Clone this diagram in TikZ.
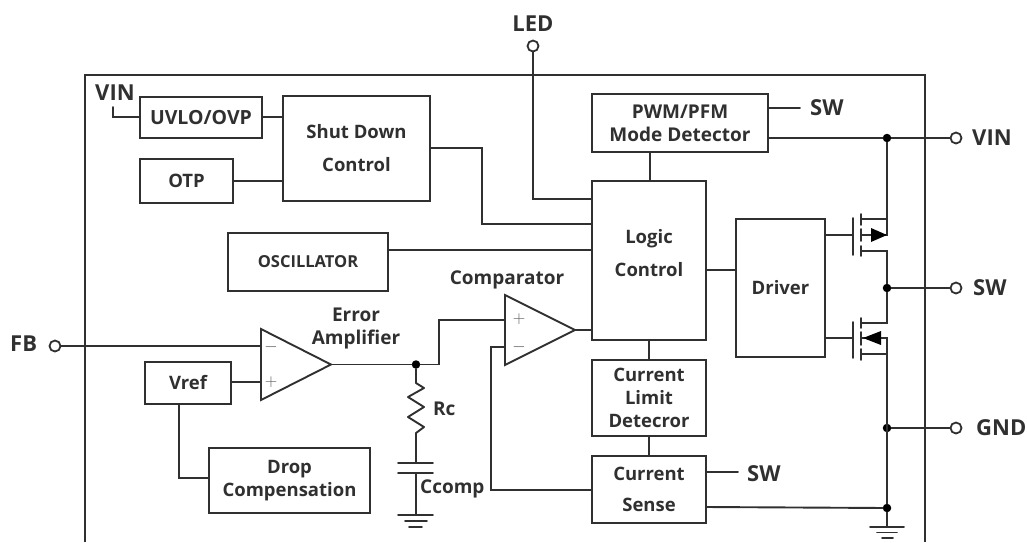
\documentclass[tikz,border=0pt]{standalone}
\usepackage{fontspec}
\setmainfont{Open Sans}[BoldFont={Open Sans Bold}]
\definecolor{ink}{HTML}{303030}
\newcommand{\fs}[1]{\fontsize{#1}{23}\selectfont\bfseries}
\tikzset{
  wire/.style={draw=ink,line width=1.9pt,line cap=round,line join=miter},
  lbl/.style={text=ink,inner sep=0pt,align=center,font=\fs{19}},
  biglbl/.style={text=ink,inner sep=0pt,align=center,font=\fs{22}},
  sign/.style={text=ink!80,inner sep=0pt,font=\fs{17}},
  box/.style={draw=ink,line width=1.9pt,inner sep=0pt,align=center,text=ink,font=\fs{18.5},fill=white},
  dot/.style={circle,fill=black,inner sep=0pt,minimum size=8.5pt},
  pin/.style={circle,draw=ink,line width=1.8pt,fill=white,inner sep=0pt,minimum size=11pt},
}
\begin{document}
\begin{tikzpicture}[x=1pt,y=-1pt]
\useasboundingbox (0,0) rectangle (1027,542);
% frame
\coordinate (fbl) at (85,542);\coordinate (ftl) at (85,75);\coordinate (ftr) at (925,75);\coordinate (fbr) at (925,542);
\draw[wire,line cap=butt] (fbl) -- (ftl) -- (ftr) -- (fbr);
% boxes
\node[box,minimum width=122pt,minimum height=41pt,font=\fs{19.5}] (uvlo) at (201,117.5) {UVLO/OVP};
\node[box,minimum width=93pt,minimum height=44pt] (otp) at (186.5,181) {OTP};
\node[box,minimum width=147pt,minimum height=105pt] (shut) at (356.5,148.5) {Shut Down\\[10pt]Control};
\node[box,minimum width=176pt,minimum height=58pt,font=\fs{19}] (pwm) at (680,123) {PWM/PFM\\Mode Detector};
\node[box,minimum width=114pt,minimum height=159pt] (logic) at (649,260.5) {};
\node[lbl,font=\fs{18.5}] (tlogic) at (649,253.5) {Logic\\[10pt]Control};
\node[box,minimum width=160pt,minimum height=58pt,font=\fs{16.5}] (osc) at (308,262) {OSCILLATOR};
\node[box,minimum width=89pt,minimum height=138pt] (driver) at (780.5,288) {Driver};
\node[box,minimum width=86pt,minimum height=42pt] (vref) at (188,383) {Vref};
\node[box,minimum width=161pt,minimum height=65pt] (drop) at (289.5,480.5) {Drop\\Compensation};
\node[box,minimum width=114pt,minimum height=76pt] (limit) at (649,398) {Current\\Limit\\Detecror};
\node[box,minimum width=114pt,minimum height=67pt] (sense) at (649,489.5) {Current\\[8pt]Sense};
% terminals
\node[pin] (pled) at (533,46) {};
\node[pin] (pvin) at (956,138) {};
\node[pin] (psw) at (956,288) {};
\node[pin] (pgnd) at (956,428) {};
\node[pin] (pfb) at (55,346) {};
\node[biglbl] (tled) at (533,24) {LED};
\node[biglbl,anchor=west] (tvin) at (972,138) {VIN};
\node[biglbl,anchor=west] (tsw) at (973,288) {SW};
\node[biglbl,anchor=west] (tgnd) at (976,428) {GND};
\node[biglbl,anchor=west] (tfb) at (10,344) {FB};
\node[biglbl,anchor=west] (tvin2) at (95,93) {VIN};
\node[biglbl,anchor=west] (tsw1) at (810,108) {SW};
\node[biglbl,anchor=west] (tsw2) at (747,474) {SW};
% op amps
\coordinate (ea1) at (261,329);\coordinate (ea2) at (261,400);\coordinate (eo) at (331,364.5);
\coordinate (ca1) at (505,295);\coordinate (ca2) at (505,365);\coordinate (co) at (575,330);
\draw[wire,fill=white] (ea1) -- (ea2) -- (eo) -- cycle;
\draw[wire,fill=white] (ca1) -- (ca2) -- (co) -- cycle;
\node[sign] (em) at (271,347) {$-$};
\node[sign] (ep) at (271,382) {$+$};
\node[sign] (cp) at (519,319) {$+$};
\node[sign] (cm) at (519,347) {$-$};
\node[lbl] (tcomp) at (507,280) {Comparator};
\node[lbl] (terr) at (356,328) {Error\\Amplifier};
\node[lbl,anchor=west] (trc) at (433,409) {Rc};
\node[lbl,anchor=west] (tcc) at (420,489) {Ccomp};
% control wiring
\coordinate (vw) at (113,107);
\draw[wire] (vw) -- (113,117) -- (140,117);
\draw[wire] (262,117) -- (283,117);
\draw[wire] (otp.east) -- (otp.east -| shut.west);
\coordinate (s1) at (430,148);\coordinate (s2) at (482,148);\coordinate (s3) at (482,224);\coordinate (s4) at (592,224);
\draw[wire] (s1) -- (s2) -- (s3) -- (s4);
\draw[wire] (pled.south) -- (533,199) -- (592,199);
\draw[wire] (388,250) -- (592,250);
\draw[wire] (650,152) -- (650,181);
\draw[wire] (logic.south) -- (limit.north);
\draw[wire] (limit.south) -- (sense.north);
\draw[wire] (706,270) -- (736,270);
\draw[wire] (768,108) -- (800,108);
\draw[wire] (706,472) -- (738,472);
% error amp wiring
\draw[wire] (pfb.east) -- (261,346);
\draw[wire] (231,382) -- (261,382);
\node[dot] (dout) at (416,364.5) {};
\draw[wire] (eo) -- (dout) -- (439,364.5) -- (439,320) -- (505,320);
\draw[wire] (505,347) -- (491,347) -- (491,490) -- (592,490);
\draw[wire] (co) -- (592,330);
\draw[wire] (179,404) -- (179,478) -- (209,478);
% Rc and Ccomp
\coordinate (r0) at (416,383);
\draw[wire,line join=round] (dout) -- (r0) -- (424,388) -- (408,397) -- (424,407) -- (408,417) -- (424,427) -- (416,433) -- (416,463);
\draw[wire] (398,463) -- (433,463);
\draw[wire] (398,473) -- (433,473);
\draw[wire] (416,473) -- (416,515);
\draw[wire] (398,515) -- (433,515);
\draw[wire] (405,521) -- (427,521);
\draw[wire] (409,527) -- (422,527);
% power stage
\node[dot] (dvin) at (887,138) {};
\node[dot] (dsw) at (887,288) {};
\node[dot] (dgnd) at (887,428) {};
\node[dot] (dbot) at (887,508) {};
\draw[wire] (768,138) -- (dvin) -- (pvin.west);
\draw[wire] (dsw) -- (psw.west);
\draw[wire] (dgnd) -- (pgnd.west);
\draw[wire] (706,507) -- (dbot);
% upper FET
\draw[wire] (dvin) -- (887,235) -- (862,235);
\draw[wire] (887,219) -- (861,219);
\draw[wire] (861,251) -- (887,251) -- (dsw);
\draw[wire] (825,235) -- (853,235);
\draw[wire] (853,218) -- (853,255);
\draw[wire] (861,214) -- (861,225);
\draw[wire] (861,229) -- (861,241);
\draw[wire] (861,246) -- (861,256);
\fill[black] (887,235) -- (871,228) -- (871,242) -- cycle;
% lower FET
\draw[wire] (dsw) -- (887,323) -- (861,323);
\draw[wire] (862,338) -- (887,338) -- (dbot);
\draw[wire] (887,354) -- (861,354);
\draw[wire] (825,338) -- (853,338);
\draw[wire] (853,322) -- (853,358);
\draw[wire] (861,318) -- (861,328);
\draw[wire] (861,332) -- (861,345);
\draw[wire] (861,349) -- (861,360);
\fill[black] (863,338) -- (881,331) -- (881,345) -- cycle;
% ground
\draw[wire] (dbot) -- (887,527);
\draw[wire] (870,527) -- (904,527);
\draw[wire] (877,532.5) -- (897,532.5);
\draw[wire] (882,538) -- (893,538);
\end{tikzpicture}
\end{document}
